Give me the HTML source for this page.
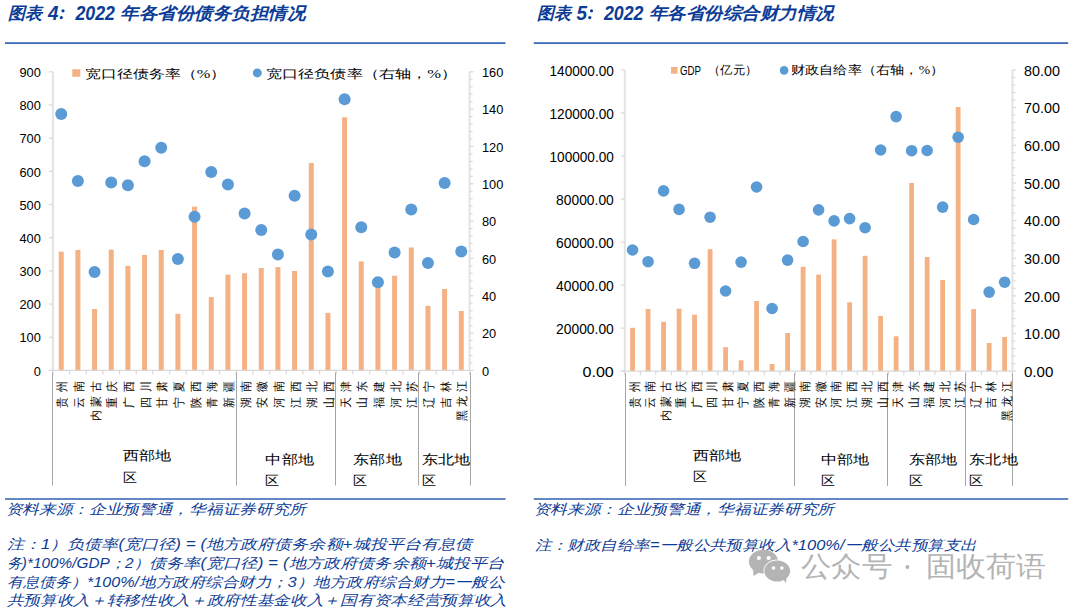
<!DOCTYPE html>
<html><head><meta charset="utf-8">
<style>
html,body{margin:0;padding:0;background:#fff;width:1080px;height:611px;overflow:hidden}
svg{position:absolute;left:0;top:0;font-family:"Liberation Serif",serif}
.num{font-family:"Liberation Sans",sans-serif;fill:#000}
text{fill:#000}
.blue{fill:#0c3c96}
.ttl{fill:#0c3c96;font-size:17px;font-style:italic;font-weight:bold}
.tnum{font-family:"Liberation Sans",sans-serif;font-size:19.5px;font-weight:bold}
.lg{font-size:12.3px;dominant-baseline:central;font-weight:300}
.cat{font-weight:300}
.lg2{font-size:11.6px;dominant-baseline:central;font-weight:300}
.grp{font-size:13.4px;dominant-baseline:central;font-weight:300}
.note{fill:#0c3c96;font-size:14px;font-style:italic;dominant-baseline:central;font-family:"Liberation Sans",sans-serif;font-weight:300}
.wm{fill:#b4b4b4;font-family:"Liberation Sans",sans-serif;font-size:28px;dominant-baseline:central}
</style></head><body>
<svg width="1080" height="611" viewBox="0 0 1080 611">
<rect x="5" y="42.2" width="500.5" height="1.8" fill="#3d6ab4"/>
<rect x="533.8" y="42.2" width="534.4" height="1.8" fill="#3d6ab4"/>
<rect x="5" y="498.2" width="500.5" height="1.6" fill="#3d6ab4"/>
<rect x="533.8" y="498.2" width="534.4" height="1.6" fill="#3d6ab4"/>
<rect x="58.73" y="251.70" width="5.0" height="118.70" fill="#f4b183"/>
<rect x="75.40" y="249.90" width="5.0" height="120.50" fill="#f4b183"/>
<rect x="92.07" y="309.00" width="5.0" height="61.40" fill="#f4b183"/>
<rect x="108.74" y="249.60" width="5.0" height="120.80" fill="#f4b183"/>
<rect x="125.41" y="265.90" width="5.0" height="104.50" fill="#f4b183"/>
<rect x="142.07" y="254.90" width="5.0" height="115.50" fill="#f4b183"/>
<rect x="158.74" y="249.90" width="5.0" height="120.50" fill="#f4b183"/>
<rect x="175.41" y="313.80" width="5.0" height="56.60" fill="#f4b183"/>
<rect x="192.08" y="206.70" width="5.0" height="163.70" fill="#f4b183"/>
<rect x="208.75" y="297.10" width="5.0" height="73.30" fill="#f4b183"/>
<rect x="225.41" y="274.60" width="5.0" height="95.80" fill="#f4b183"/>
<rect x="242.08" y="273.20" width="5.0" height="97.20" fill="#f4b183"/>
<rect x="258.75" y="268.00" width="5.0" height="102.40" fill="#f4b183"/>
<rect x="275.42" y="267.10" width="5.0" height="103.30" fill="#f4b183"/>
<rect x="292.09" y="271.00" width="5.0" height="99.40" fill="#f4b183"/>
<rect x="308.75" y="163.00" width="5.0" height="207.40" fill="#f4b183"/>
<rect x="325.42" y="312.90" width="5.0" height="57.50" fill="#f4b183"/>
<rect x="342.09" y="117.30" width="5.0" height="253.10" fill="#f4b183"/>
<rect x="358.76" y="261.40" width="5.0" height="109.00" fill="#f4b183"/>
<rect x="375.43" y="283.00" width="5.0" height="87.40" fill="#f4b183"/>
<rect x="392.09" y="275.70" width="5.0" height="94.70" fill="#f4b183"/>
<rect x="408.76" y="247.50" width="5.0" height="122.90" fill="#f4b183"/>
<rect x="425.43" y="305.90" width="5.0" height="64.50" fill="#f4b183"/>
<rect x="442.10" y="289.00" width="5.0" height="81.40" fill="#f4b183"/>
<rect x="458.77" y="311.00" width="5.0" height="59.40" fill="#f4b183"/>
<line x1="52.90" y1="71.80" x2="52.90" y2="370.40" stroke="#e3e3e3" stroke-width="2"/>
<line x1="469.60" y1="71.80" x2="469.60" y2="370.40" stroke="#e3e3e3" stroke-width="2"/>
<line x1="48.90" y1="370.40" x2="469.60" y2="370.40" stroke="#d9d9d9" stroke-width="1.2"/>
<line x1="48.90" y1="71.80" x2="52.90" y2="71.80" stroke="#d9d9d9" stroke-width="1.2"/>
<line x1="48.90" y1="104.98" x2="52.90" y2="104.98" stroke="#d9d9d9" stroke-width="1.2"/>
<line x1="48.90" y1="138.16" x2="52.90" y2="138.16" stroke="#d9d9d9" stroke-width="1.2"/>
<line x1="48.90" y1="171.33" x2="52.90" y2="171.33" stroke="#d9d9d9" stroke-width="1.2"/>
<line x1="48.90" y1="204.51" x2="52.90" y2="204.51" stroke="#d9d9d9" stroke-width="1.2"/>
<line x1="48.90" y1="237.69" x2="52.90" y2="237.69" stroke="#d9d9d9" stroke-width="1.2"/>
<line x1="48.90" y1="270.87" x2="52.90" y2="270.87" stroke="#d9d9d9" stroke-width="1.2"/>
<line x1="48.90" y1="304.04" x2="52.90" y2="304.04" stroke="#d9d9d9" stroke-width="1.2"/>
<line x1="48.90" y1="337.22" x2="52.90" y2="337.22" stroke="#d9d9d9" stroke-width="1.2"/>
<line x1="48.90" y1="370.40" x2="52.90" y2="370.40" stroke="#d9d9d9" stroke-width="1.2"/>
<line x1="469.60" y1="71.80" x2="473.60" y2="71.80" stroke="#d9d9d9" stroke-width="1.2"/>
<line x1="469.60" y1="79.27" x2="472.60" y2="79.27" stroke="#d9d9d9" stroke-width="1.2"/>
<line x1="469.60" y1="86.73" x2="472.60" y2="86.73" stroke="#d9d9d9" stroke-width="1.2"/>
<line x1="469.60" y1="94.19" x2="472.60" y2="94.19" stroke="#d9d9d9" stroke-width="1.2"/>
<line x1="469.60" y1="101.66" x2="472.60" y2="101.66" stroke="#d9d9d9" stroke-width="1.2"/>
<line x1="469.60" y1="109.12" x2="473.60" y2="109.12" stroke="#d9d9d9" stroke-width="1.2"/>
<line x1="469.60" y1="116.59" x2="472.60" y2="116.59" stroke="#d9d9d9" stroke-width="1.2"/>
<line x1="469.60" y1="124.05" x2="472.60" y2="124.05" stroke="#d9d9d9" stroke-width="1.2"/>
<line x1="469.60" y1="131.52" x2="472.60" y2="131.52" stroke="#d9d9d9" stroke-width="1.2"/>
<line x1="469.60" y1="138.98" x2="472.60" y2="138.98" stroke="#d9d9d9" stroke-width="1.2"/>
<line x1="469.60" y1="146.45" x2="473.60" y2="146.45" stroke="#d9d9d9" stroke-width="1.2"/>
<line x1="469.60" y1="153.91" x2="472.60" y2="153.91" stroke="#d9d9d9" stroke-width="1.2"/>
<line x1="469.60" y1="161.38" x2="472.60" y2="161.38" stroke="#d9d9d9" stroke-width="1.2"/>
<line x1="469.60" y1="168.84" x2="472.60" y2="168.84" stroke="#d9d9d9" stroke-width="1.2"/>
<line x1="469.60" y1="176.31" x2="472.60" y2="176.31" stroke="#d9d9d9" stroke-width="1.2"/>
<line x1="469.60" y1="183.77" x2="473.60" y2="183.77" stroke="#d9d9d9" stroke-width="1.2"/>
<line x1="469.60" y1="191.24" x2="472.60" y2="191.24" stroke="#d9d9d9" stroke-width="1.2"/>
<line x1="469.60" y1="198.70" x2="472.60" y2="198.70" stroke="#d9d9d9" stroke-width="1.2"/>
<line x1="469.60" y1="206.17" x2="472.60" y2="206.17" stroke="#d9d9d9" stroke-width="1.2"/>
<line x1="469.60" y1="213.63" x2="472.60" y2="213.63" stroke="#d9d9d9" stroke-width="1.2"/>
<line x1="469.60" y1="221.10" x2="473.60" y2="221.10" stroke="#d9d9d9" stroke-width="1.2"/>
<line x1="469.60" y1="228.56" x2="472.60" y2="228.56" stroke="#d9d9d9" stroke-width="1.2"/>
<line x1="469.60" y1="236.03" x2="472.60" y2="236.03" stroke="#d9d9d9" stroke-width="1.2"/>
<line x1="469.60" y1="243.50" x2="472.60" y2="243.50" stroke="#d9d9d9" stroke-width="1.2"/>
<line x1="469.60" y1="250.96" x2="472.60" y2="250.96" stroke="#d9d9d9" stroke-width="1.2"/>
<line x1="469.60" y1="258.42" x2="473.60" y2="258.42" stroke="#d9d9d9" stroke-width="1.2"/>
<line x1="469.60" y1="265.89" x2="472.60" y2="265.89" stroke="#d9d9d9" stroke-width="1.2"/>
<line x1="469.60" y1="273.35" x2="472.60" y2="273.35" stroke="#d9d9d9" stroke-width="1.2"/>
<line x1="469.60" y1="280.82" x2="472.60" y2="280.82" stroke="#d9d9d9" stroke-width="1.2"/>
<line x1="469.60" y1="288.28" x2="472.60" y2="288.28" stroke="#d9d9d9" stroke-width="1.2"/>
<line x1="469.60" y1="295.75" x2="473.60" y2="295.75" stroke="#d9d9d9" stroke-width="1.2"/>
<line x1="469.60" y1="303.21" x2="472.60" y2="303.21" stroke="#d9d9d9" stroke-width="1.2"/>
<line x1="469.60" y1="310.68" x2="472.60" y2="310.68" stroke="#d9d9d9" stroke-width="1.2"/>
<line x1="469.60" y1="318.14" x2="472.60" y2="318.14" stroke="#d9d9d9" stroke-width="1.2"/>
<line x1="469.60" y1="325.61" x2="472.60" y2="325.61" stroke="#d9d9d9" stroke-width="1.2"/>
<line x1="469.60" y1="333.07" x2="473.60" y2="333.07" stroke="#d9d9d9" stroke-width="1.2"/>
<line x1="469.60" y1="340.54" x2="472.60" y2="340.54" stroke="#d9d9d9" stroke-width="1.2"/>
<line x1="469.60" y1="348.00" x2="472.60" y2="348.00" stroke="#d9d9d9" stroke-width="1.2"/>
<line x1="469.60" y1="355.47" x2="472.60" y2="355.47" stroke="#d9d9d9" stroke-width="1.2"/>
<line x1="469.60" y1="362.93" x2="472.60" y2="362.93" stroke="#d9d9d9" stroke-width="1.2"/>
<line x1="469.60" y1="370.40" x2="473.60" y2="370.40" stroke="#d9d9d9" stroke-width="1.2"/>
<line x1="52.90" y1="370.40" x2="52.90" y2="374.40" stroke="#d9d9d9" stroke-width="1.2"/>
<line x1="69.57" y1="370.40" x2="69.57" y2="374.40" stroke="#d9d9d9" stroke-width="1.2"/>
<line x1="86.24" y1="370.40" x2="86.24" y2="374.40" stroke="#d9d9d9" stroke-width="1.2"/>
<line x1="102.90" y1="370.40" x2="102.90" y2="374.40" stroke="#d9d9d9" stroke-width="1.2"/>
<line x1="119.57" y1="370.40" x2="119.57" y2="374.40" stroke="#d9d9d9" stroke-width="1.2"/>
<line x1="136.24" y1="370.40" x2="136.24" y2="374.40" stroke="#d9d9d9" stroke-width="1.2"/>
<line x1="152.91" y1="370.40" x2="152.91" y2="374.40" stroke="#d9d9d9" stroke-width="1.2"/>
<line x1="169.58" y1="370.40" x2="169.58" y2="374.40" stroke="#d9d9d9" stroke-width="1.2"/>
<line x1="186.24" y1="370.40" x2="186.24" y2="374.40" stroke="#d9d9d9" stroke-width="1.2"/>
<line x1="202.91" y1="370.40" x2="202.91" y2="374.40" stroke="#d9d9d9" stroke-width="1.2"/>
<line x1="219.58" y1="370.40" x2="219.58" y2="374.40" stroke="#d9d9d9" stroke-width="1.2"/>
<line x1="236.25" y1="370.40" x2="236.25" y2="374.40" stroke="#d9d9d9" stroke-width="1.2"/>
<line x1="252.92" y1="370.40" x2="252.92" y2="374.40" stroke="#d9d9d9" stroke-width="1.2"/>
<line x1="269.58" y1="370.40" x2="269.58" y2="374.40" stroke="#d9d9d9" stroke-width="1.2"/>
<line x1="286.25" y1="370.40" x2="286.25" y2="374.40" stroke="#d9d9d9" stroke-width="1.2"/>
<line x1="302.92" y1="370.40" x2="302.92" y2="374.40" stroke="#d9d9d9" stroke-width="1.2"/>
<line x1="319.59" y1="370.40" x2="319.59" y2="374.40" stroke="#d9d9d9" stroke-width="1.2"/>
<line x1="336.26" y1="370.40" x2="336.26" y2="374.40" stroke="#d9d9d9" stroke-width="1.2"/>
<line x1="352.92" y1="370.40" x2="352.92" y2="374.40" stroke="#d9d9d9" stroke-width="1.2"/>
<line x1="369.59" y1="370.40" x2="369.59" y2="374.40" stroke="#d9d9d9" stroke-width="1.2"/>
<line x1="386.26" y1="370.40" x2="386.26" y2="374.40" stroke="#d9d9d9" stroke-width="1.2"/>
<line x1="402.93" y1="370.40" x2="402.93" y2="374.40" stroke="#d9d9d9" stroke-width="1.2"/>
<line x1="419.60" y1="370.40" x2="419.60" y2="374.40" stroke="#d9d9d9" stroke-width="1.2"/>
<line x1="436.26" y1="370.40" x2="436.26" y2="374.40" stroke="#d9d9d9" stroke-width="1.2"/>
<line x1="452.93" y1="370.40" x2="452.93" y2="374.40" stroke="#d9d9d9" stroke-width="1.2"/>
<line x1="469.60" y1="370.40" x2="469.60" y2="374.40" stroke="#d9d9d9" stroke-width="1.2"/>
<line x1="52.50" y1="372.40" x2="52.50" y2="485.50" stroke="#a6a6a6" stroke-width="1"/>
<line x1="236.50" y1="372.40" x2="236.50" y2="485.50" stroke="#a6a6a6" stroke-width="1"/>
<line x1="335.50" y1="372.40" x2="335.50" y2="485.50" stroke="#a6a6a6" stroke-width="1"/>
<line x1="418.50" y1="372.40" x2="418.50" y2="485.50" stroke="#a6a6a6" stroke-width="1"/>
<line x1="470.50" y1="372.40" x2="470.50" y2="485.50" stroke="#a6a6a6" stroke-width="1"/>
<circle cx="61.23" cy="113.90" r="6.0" fill="#5b9bd5"/>
<circle cx="77.90" cy="181.10" r="6.0" fill="#5b9bd5"/>
<circle cx="94.57" cy="272.10" r="6.0" fill="#5b9bd5"/>
<circle cx="111.24" cy="182.40" r="6.0" fill="#5b9bd5"/>
<circle cx="127.91" cy="185.20" r="6.0" fill="#5b9bd5"/>
<circle cx="144.57" cy="161.30" r="6.0" fill="#5b9bd5"/>
<circle cx="161.24" cy="147.80" r="6.0" fill="#5b9bd5"/>
<circle cx="177.91" cy="259.00" r="6.0" fill="#5b9bd5"/>
<circle cx="194.58" cy="216.80" r="6.0" fill="#5b9bd5"/>
<circle cx="211.25" cy="171.90" r="6.0" fill="#5b9bd5"/>
<circle cx="227.91" cy="184.40" r="6.0" fill="#5b9bd5"/>
<circle cx="244.58" cy="213.50" r="6.0" fill="#5b9bd5"/>
<circle cx="261.25" cy="230.00" r="6.0" fill="#5b9bd5"/>
<circle cx="277.92" cy="254.50" r="6.0" fill="#5b9bd5"/>
<circle cx="294.59" cy="195.80" r="6.0" fill="#5b9bd5"/>
<circle cx="311.25" cy="234.40" r="6.0" fill="#5b9bd5"/>
<circle cx="327.92" cy="271.40" r="6.0" fill="#5b9bd5"/>
<circle cx="344.59" cy="99.20" r="6.0" fill="#5b9bd5"/>
<circle cx="361.26" cy="227.20" r="6.0" fill="#5b9bd5"/>
<circle cx="377.93" cy="282.30" r="6.0" fill="#5b9bd5"/>
<circle cx="394.59" cy="252.50" r="6.0" fill="#5b9bd5"/>
<circle cx="411.26" cy="209.60" r="6.0" fill="#5b9bd5"/>
<circle cx="427.93" cy="263.10" r="6.0" fill="#5b9bd5"/>
<circle cx="444.60" cy="182.90" r="6.0" fill="#5b9bd5"/>
<circle cx="461.27" cy="251.40" r="6.0" fill="#5b9bd5"/>
<text class="cat" transform="translate(62.03,380.3) rotate(-90) scale(1,1.1)" text-anchor="end" dominant-baseline="central" font-size="11.3" textLength="27.4" lengthAdjust="spacing">贵州</text>
<text class="cat" transform="translate(78.70,380.3) rotate(-90) scale(1,1.1)" text-anchor="end" dominant-baseline="central" font-size="11.3" textLength="27.4" lengthAdjust="spacing">云南</text>
<text class="cat" transform="translate(95.37,380.3) rotate(-90) scale(1,1.1)" text-anchor="end" dominant-baseline="central" font-size="11.3" textLength="41.2" lengthAdjust="spacing">内蒙古</text>
<text class="cat" transform="translate(112.04,380.3) rotate(-90) scale(1,1.1)" text-anchor="end" dominant-baseline="central" font-size="11.3" textLength="27.4" lengthAdjust="spacing">重庆</text>
<text class="cat" transform="translate(128.71,380.3) rotate(-90) scale(1,1.1)" text-anchor="end" dominant-baseline="central" font-size="11.3" textLength="27.4" lengthAdjust="spacing">广西</text>
<text class="cat" transform="translate(145.37,380.3) rotate(-90) scale(1,1.1)" text-anchor="end" dominant-baseline="central" font-size="11.3" textLength="27.4" lengthAdjust="spacing">四川</text>
<text class="cat" transform="translate(162.04,380.3) rotate(-90) scale(1,1.1)" text-anchor="end" dominant-baseline="central" font-size="11.3" textLength="27.4" lengthAdjust="spacing">甘肃</text>
<text class="cat" transform="translate(178.71,380.3) rotate(-90) scale(1,1.1)" text-anchor="end" dominant-baseline="central" font-size="11.3" textLength="27.4" lengthAdjust="spacing">宁夏</text>
<text class="cat" transform="translate(195.38,380.3) rotate(-90) scale(1,1.1)" text-anchor="end" dominant-baseline="central" font-size="11.3" textLength="27.4" lengthAdjust="spacing">陕西</text>
<text class="cat" transform="translate(212.05,380.3) rotate(-90) scale(1,1.1)" text-anchor="end" dominant-baseline="central" font-size="11.3" textLength="27.4" lengthAdjust="spacing">青海</text>
<text class="cat" transform="translate(228.71,380.3) rotate(-90) scale(1,1.1)" text-anchor="end" dominant-baseline="central" font-size="11.3" textLength="27.4" lengthAdjust="spacing">新疆</text>
<text class="cat" transform="translate(245.38,380.3) rotate(-90) scale(1,1.1)" text-anchor="end" dominant-baseline="central" font-size="11.3" textLength="27.4" lengthAdjust="spacing">湖南</text>
<text class="cat" transform="translate(262.05,380.3) rotate(-90) scale(1,1.1)" text-anchor="end" dominant-baseline="central" font-size="11.3" textLength="27.4" lengthAdjust="spacing">安徽</text>
<text class="cat" transform="translate(278.72,380.3) rotate(-90) scale(1,1.1)" text-anchor="end" dominant-baseline="central" font-size="11.3" textLength="27.4" lengthAdjust="spacing">河南</text>
<text class="cat" transform="translate(295.39,380.3) rotate(-90) scale(1,1.1)" text-anchor="end" dominant-baseline="central" font-size="11.3" textLength="27.4" lengthAdjust="spacing">江西</text>
<text class="cat" transform="translate(312.05,380.3) rotate(-90) scale(1,1.1)" text-anchor="end" dominant-baseline="central" font-size="11.3" textLength="27.4" lengthAdjust="spacing">湖北</text>
<text class="cat" transform="translate(328.72,380.3) rotate(-90) scale(1,1.1)" text-anchor="end" dominant-baseline="central" font-size="11.3" textLength="27.4" lengthAdjust="spacing">山西</text>
<text class="cat" transform="translate(345.39,380.3) rotate(-90) scale(1,1.1)" text-anchor="end" dominant-baseline="central" font-size="11.3" textLength="27.4" lengthAdjust="spacing">天津</text>
<text class="cat" transform="translate(362.06,380.3) rotate(-90) scale(1,1.1)" text-anchor="end" dominant-baseline="central" font-size="11.3" textLength="27.4" lengthAdjust="spacing">山东</text>
<text class="cat" transform="translate(378.73,380.3) rotate(-90) scale(1,1.1)" text-anchor="end" dominant-baseline="central" font-size="11.3" textLength="27.4" lengthAdjust="spacing">福建</text>
<text class="cat" transform="translate(395.39,380.3) rotate(-90) scale(1,1.1)" text-anchor="end" dominant-baseline="central" font-size="11.3" textLength="27.4" lengthAdjust="spacing">河北</text>
<text class="cat" transform="translate(412.06,380.3) rotate(-90) scale(1,1.1)" text-anchor="end" dominant-baseline="central" font-size="11.3" textLength="27.4" lengthAdjust="spacing">江苏</text>
<text class="cat" transform="translate(428.73,380.3) rotate(-90) scale(1,1.1)" text-anchor="end" dominant-baseline="central" font-size="11.3" textLength="27.4" lengthAdjust="spacing">辽宁</text>
<text class="cat" transform="translate(445.40,380.3) rotate(-90) scale(1,1.1)" text-anchor="end" dominant-baseline="central" font-size="11.3" textLength="27.4" lengthAdjust="spacing">吉林</text>
<text class="cat" transform="translate(462.07,380.3) rotate(-90) scale(1,1.1)" text-anchor="end" dominant-baseline="central" font-size="11.3" textLength="41.2" lengthAdjust="spacing">黑龙江</text>
<rect x="630.15" y="327.80" width="4.8" height="43.40" fill="#f4b183"/>
<rect x="645.66" y="309.00" width="4.8" height="62.20" fill="#f4b183"/>
<rect x="661.16" y="321.80" width="4.8" height="49.40" fill="#f4b183"/>
<rect x="676.66" y="308.70" width="4.8" height="62.50" fill="#f4b183"/>
<rect x="692.17" y="314.70" width="4.8" height="56.50" fill="#f4b183"/>
<rect x="707.67" y="249.20" width="4.8" height="122.00" fill="#f4b183"/>
<rect x="723.18" y="347.20" width="4.8" height="24.00" fill="#f4b183"/>
<rect x="738.68" y="360.30" width="4.8" height="10.90" fill="#f4b183"/>
<rect x="754.18" y="301.00" width="4.8" height="70.20" fill="#f4b183"/>
<rect x="769.69" y="364.00" width="4.8" height="7.20" fill="#f4b183"/>
<rect x="785.19" y="333.00" width="4.8" height="38.20" fill="#f4b183"/>
<rect x="800.70" y="266.80" width="4.8" height="104.40" fill="#f4b183"/>
<rect x="816.20" y="274.60" width="4.8" height="96.60" fill="#f4b183"/>
<rect x="831.70" y="239.40" width="4.8" height="131.80" fill="#f4b183"/>
<rect x="847.21" y="302.30" width="4.8" height="68.90" fill="#f4b183"/>
<rect x="862.71" y="255.80" width="4.8" height="115.40" fill="#f4b183"/>
<rect x="878.22" y="315.90" width="4.8" height="55.30" fill="#f4b183"/>
<rect x="893.72" y="336.30" width="4.8" height="34.90" fill="#f4b183"/>
<rect x="909.22" y="183.00" width="4.8" height="188.20" fill="#f4b183"/>
<rect x="924.73" y="257.00" width="4.8" height="114.20" fill="#f4b183"/>
<rect x="940.23" y="280.00" width="4.8" height="91.20" fill="#f4b183"/>
<rect x="955.74" y="107.00" width="4.8" height="264.20" fill="#f4b183"/>
<rect x="971.24" y="309.10" width="4.8" height="62.10" fill="#f4b183"/>
<rect x="986.74" y="343.00" width="4.8" height="28.20" fill="#f4b183"/>
<rect x="1002.25" y="337.00" width="4.8" height="34.20" fill="#f4b183"/>
<line x1="624.80" y1="69.90" x2="624.80" y2="371.20" stroke="#e3e3e3" stroke-width="2"/>
<line x1="1012.40" y1="69.90" x2="1012.40" y2="371.20" stroke="#e3e3e3" stroke-width="2"/>
<line x1="620.80" y1="371.20" x2="1012.40" y2="371.20" stroke="#d9d9d9" stroke-width="1.2"/>
<line x1="620.80" y1="69.90" x2="624.80" y2="69.90" stroke="#d9d9d9" stroke-width="1.2"/>
<line x1="620.80" y1="112.94" x2="624.80" y2="112.94" stroke="#d9d9d9" stroke-width="1.2"/>
<line x1="620.80" y1="155.99" x2="624.80" y2="155.99" stroke="#d9d9d9" stroke-width="1.2"/>
<line x1="620.80" y1="199.03" x2="624.80" y2="199.03" stroke="#d9d9d9" stroke-width="1.2"/>
<line x1="620.80" y1="242.07" x2="624.80" y2="242.07" stroke="#d9d9d9" stroke-width="1.2"/>
<line x1="620.80" y1="285.11" x2="624.80" y2="285.11" stroke="#d9d9d9" stroke-width="1.2"/>
<line x1="620.80" y1="328.16" x2="624.80" y2="328.16" stroke="#d9d9d9" stroke-width="1.2"/>
<line x1="620.80" y1="371.20" x2="624.80" y2="371.20" stroke="#d9d9d9" stroke-width="1.2"/>
<line x1="1012.40" y1="69.90" x2="1016.40" y2="69.90" stroke="#d9d9d9" stroke-width="1.2"/>
<line x1="1012.40" y1="77.43" x2="1015.40" y2="77.43" stroke="#d9d9d9" stroke-width="1.2"/>
<line x1="1012.40" y1="84.97" x2="1015.40" y2="84.97" stroke="#d9d9d9" stroke-width="1.2"/>
<line x1="1012.40" y1="92.50" x2="1015.40" y2="92.50" stroke="#d9d9d9" stroke-width="1.2"/>
<line x1="1012.40" y1="100.03" x2="1015.40" y2="100.03" stroke="#d9d9d9" stroke-width="1.2"/>
<line x1="1012.40" y1="107.56" x2="1016.40" y2="107.56" stroke="#d9d9d9" stroke-width="1.2"/>
<line x1="1012.40" y1="115.09" x2="1015.40" y2="115.09" stroke="#d9d9d9" stroke-width="1.2"/>
<line x1="1012.40" y1="122.63" x2="1015.40" y2="122.63" stroke="#d9d9d9" stroke-width="1.2"/>
<line x1="1012.40" y1="130.16" x2="1015.40" y2="130.16" stroke="#d9d9d9" stroke-width="1.2"/>
<line x1="1012.40" y1="137.69" x2="1015.40" y2="137.69" stroke="#d9d9d9" stroke-width="1.2"/>
<line x1="1012.40" y1="145.22" x2="1016.40" y2="145.22" stroke="#d9d9d9" stroke-width="1.2"/>
<line x1="1012.40" y1="152.76" x2="1015.40" y2="152.76" stroke="#d9d9d9" stroke-width="1.2"/>
<line x1="1012.40" y1="160.29" x2="1015.40" y2="160.29" stroke="#d9d9d9" stroke-width="1.2"/>
<line x1="1012.40" y1="167.82" x2="1015.40" y2="167.82" stroke="#d9d9d9" stroke-width="1.2"/>
<line x1="1012.40" y1="175.35" x2="1015.40" y2="175.35" stroke="#d9d9d9" stroke-width="1.2"/>
<line x1="1012.40" y1="182.89" x2="1016.40" y2="182.89" stroke="#d9d9d9" stroke-width="1.2"/>
<line x1="1012.40" y1="190.42" x2="1015.40" y2="190.42" stroke="#d9d9d9" stroke-width="1.2"/>
<line x1="1012.40" y1="197.95" x2="1015.40" y2="197.95" stroke="#d9d9d9" stroke-width="1.2"/>
<line x1="1012.40" y1="205.48" x2="1015.40" y2="205.48" stroke="#d9d9d9" stroke-width="1.2"/>
<line x1="1012.40" y1="213.02" x2="1015.40" y2="213.02" stroke="#d9d9d9" stroke-width="1.2"/>
<line x1="1012.40" y1="220.55" x2="1016.40" y2="220.55" stroke="#d9d9d9" stroke-width="1.2"/>
<line x1="1012.40" y1="228.08" x2="1015.40" y2="228.08" stroke="#d9d9d9" stroke-width="1.2"/>
<line x1="1012.40" y1="235.61" x2="1015.40" y2="235.61" stroke="#d9d9d9" stroke-width="1.2"/>
<line x1="1012.40" y1="243.15" x2="1015.40" y2="243.15" stroke="#d9d9d9" stroke-width="1.2"/>
<line x1="1012.40" y1="250.68" x2="1015.40" y2="250.68" stroke="#d9d9d9" stroke-width="1.2"/>
<line x1="1012.40" y1="258.21" x2="1016.40" y2="258.21" stroke="#d9d9d9" stroke-width="1.2"/>
<line x1="1012.40" y1="265.75" x2="1015.40" y2="265.75" stroke="#d9d9d9" stroke-width="1.2"/>
<line x1="1012.40" y1="273.28" x2="1015.40" y2="273.28" stroke="#d9d9d9" stroke-width="1.2"/>
<line x1="1012.40" y1="280.81" x2="1015.40" y2="280.81" stroke="#d9d9d9" stroke-width="1.2"/>
<line x1="1012.40" y1="288.34" x2="1015.40" y2="288.34" stroke="#d9d9d9" stroke-width="1.2"/>
<line x1="1012.40" y1="295.88" x2="1016.40" y2="295.88" stroke="#d9d9d9" stroke-width="1.2"/>
<line x1="1012.40" y1="303.41" x2="1015.40" y2="303.41" stroke="#d9d9d9" stroke-width="1.2"/>
<line x1="1012.40" y1="310.94" x2="1015.40" y2="310.94" stroke="#d9d9d9" stroke-width="1.2"/>
<line x1="1012.40" y1="318.47" x2="1015.40" y2="318.47" stroke="#d9d9d9" stroke-width="1.2"/>
<line x1="1012.40" y1="326.00" x2="1015.40" y2="326.00" stroke="#d9d9d9" stroke-width="1.2"/>
<line x1="1012.40" y1="333.54" x2="1016.40" y2="333.54" stroke="#d9d9d9" stroke-width="1.2"/>
<line x1="1012.40" y1="341.07" x2="1015.40" y2="341.07" stroke="#d9d9d9" stroke-width="1.2"/>
<line x1="1012.40" y1="348.60" x2="1015.40" y2="348.60" stroke="#d9d9d9" stroke-width="1.2"/>
<line x1="1012.40" y1="356.13" x2="1015.40" y2="356.13" stroke="#d9d9d9" stroke-width="1.2"/>
<line x1="1012.40" y1="363.67" x2="1015.40" y2="363.67" stroke="#d9d9d9" stroke-width="1.2"/>
<line x1="1012.40" y1="371.20" x2="1016.40" y2="371.20" stroke="#d9d9d9" stroke-width="1.2"/>
<line x1="624.80" y1="371.20" x2="624.80" y2="375.20" stroke="#d9d9d9" stroke-width="1.2"/>
<line x1="640.30" y1="371.20" x2="640.30" y2="375.20" stroke="#d9d9d9" stroke-width="1.2"/>
<line x1="655.81" y1="371.20" x2="655.81" y2="375.20" stroke="#d9d9d9" stroke-width="1.2"/>
<line x1="671.31" y1="371.20" x2="671.31" y2="375.20" stroke="#d9d9d9" stroke-width="1.2"/>
<line x1="686.82" y1="371.20" x2="686.82" y2="375.20" stroke="#d9d9d9" stroke-width="1.2"/>
<line x1="702.32" y1="371.20" x2="702.32" y2="375.20" stroke="#d9d9d9" stroke-width="1.2"/>
<line x1="717.82" y1="371.20" x2="717.82" y2="375.20" stroke="#d9d9d9" stroke-width="1.2"/>
<line x1="733.33" y1="371.20" x2="733.33" y2="375.20" stroke="#d9d9d9" stroke-width="1.2"/>
<line x1="748.83" y1="371.20" x2="748.83" y2="375.20" stroke="#d9d9d9" stroke-width="1.2"/>
<line x1="764.34" y1="371.20" x2="764.34" y2="375.20" stroke="#d9d9d9" stroke-width="1.2"/>
<line x1="779.84" y1="371.20" x2="779.84" y2="375.20" stroke="#d9d9d9" stroke-width="1.2"/>
<line x1="795.34" y1="371.20" x2="795.34" y2="375.20" stroke="#d9d9d9" stroke-width="1.2"/>
<line x1="810.85" y1="371.20" x2="810.85" y2="375.20" stroke="#d9d9d9" stroke-width="1.2"/>
<line x1="826.35" y1="371.20" x2="826.35" y2="375.20" stroke="#d9d9d9" stroke-width="1.2"/>
<line x1="841.86" y1="371.20" x2="841.86" y2="375.20" stroke="#d9d9d9" stroke-width="1.2"/>
<line x1="857.36" y1="371.20" x2="857.36" y2="375.20" stroke="#d9d9d9" stroke-width="1.2"/>
<line x1="872.86" y1="371.20" x2="872.86" y2="375.20" stroke="#d9d9d9" stroke-width="1.2"/>
<line x1="888.37" y1="371.20" x2="888.37" y2="375.20" stroke="#d9d9d9" stroke-width="1.2"/>
<line x1="903.87" y1="371.20" x2="903.87" y2="375.20" stroke="#d9d9d9" stroke-width="1.2"/>
<line x1="919.38" y1="371.20" x2="919.38" y2="375.20" stroke="#d9d9d9" stroke-width="1.2"/>
<line x1="934.88" y1="371.20" x2="934.88" y2="375.20" stroke="#d9d9d9" stroke-width="1.2"/>
<line x1="950.38" y1="371.20" x2="950.38" y2="375.20" stroke="#d9d9d9" stroke-width="1.2"/>
<line x1="965.89" y1="371.20" x2="965.89" y2="375.20" stroke="#d9d9d9" stroke-width="1.2"/>
<line x1="981.39" y1="371.20" x2="981.39" y2="375.20" stroke="#d9d9d9" stroke-width="1.2"/>
<line x1="996.90" y1="371.20" x2="996.90" y2="375.20" stroke="#d9d9d9" stroke-width="1.2"/>
<line x1="1012.40" y1="371.20" x2="1012.40" y2="375.20" stroke="#d9d9d9" stroke-width="1.2"/>
<line x1="625.50" y1="373.20" x2="625.50" y2="486.00" stroke="#a6a6a6" stroke-width="1"/>
<line x1="794.50" y1="373.20" x2="794.50" y2="486.00" stroke="#a6a6a6" stroke-width="1"/>
<line x1="887.50" y1="373.20" x2="887.50" y2="486.00" stroke="#a6a6a6" stroke-width="1"/>
<line x1="965.50" y1="373.20" x2="965.50" y2="486.00" stroke="#a6a6a6" stroke-width="1"/>
<line x1="1012.50" y1="373.20" x2="1012.50" y2="486.00" stroke="#a6a6a6" stroke-width="1"/>
<circle cx="632.55" cy="250.00" r="5.8" fill="#5b9bd5"/>
<circle cx="648.06" cy="261.70" r="5.8" fill="#5b9bd5"/>
<circle cx="663.56" cy="190.90" r="5.8" fill="#5b9bd5"/>
<circle cx="679.06" cy="209.40" r="5.8" fill="#5b9bd5"/>
<circle cx="694.57" cy="263.30" r="5.8" fill="#5b9bd5"/>
<circle cx="710.07" cy="217.20" r="5.8" fill="#5b9bd5"/>
<circle cx="725.58" cy="291.00" r="5.8" fill="#5b9bd5"/>
<circle cx="741.08" cy="262.10" r="5.8" fill="#5b9bd5"/>
<circle cx="756.58" cy="187.00" r="5.8" fill="#5b9bd5"/>
<circle cx="772.09" cy="308.50" r="5.8" fill="#5b9bd5"/>
<circle cx="787.59" cy="260.10" r="5.8" fill="#5b9bd5"/>
<circle cx="803.10" cy="241.50" r="5.8" fill="#5b9bd5"/>
<circle cx="818.60" cy="209.90" r="5.8" fill="#5b9bd5"/>
<circle cx="834.10" cy="220.90" r="5.8" fill="#5b9bd5"/>
<circle cx="849.61" cy="218.60" r="5.8" fill="#5b9bd5"/>
<circle cx="865.11" cy="227.70" r="5.8" fill="#5b9bd5"/>
<circle cx="880.62" cy="150.00" r="5.8" fill="#5b9bd5"/>
<circle cx="896.12" cy="116.60" r="5.8" fill="#5b9bd5"/>
<circle cx="911.62" cy="150.70" r="5.8" fill="#5b9bd5"/>
<circle cx="927.13" cy="150.50" r="5.8" fill="#5b9bd5"/>
<circle cx="942.63" cy="207.10" r="5.8" fill="#5b9bd5"/>
<circle cx="958.14" cy="137.20" r="5.8" fill="#5b9bd5"/>
<circle cx="973.64" cy="219.50" r="5.8" fill="#5b9bd5"/>
<circle cx="989.14" cy="292.10" r="5.8" fill="#5b9bd5"/>
<circle cx="1004.65" cy="282.20" r="5.8" fill="#5b9bd5"/>
<text class="cat" transform="translate(634.55,380.3) rotate(-90) scale(1,1.1)" text-anchor="end" dominant-baseline="central" font-size="11.3" textLength="27.4" lengthAdjust="spacing">贵州</text>
<text class="cat" transform="translate(650.06,380.3) rotate(-90) scale(1,1.1)" text-anchor="end" dominant-baseline="central" font-size="11.3" textLength="27.4" lengthAdjust="spacing">云南</text>
<text class="cat" transform="translate(665.56,380.3) rotate(-90) scale(1,1.1)" text-anchor="end" dominant-baseline="central" font-size="11.3" textLength="41.2" lengthAdjust="spacing">内蒙古</text>
<text class="cat" transform="translate(681.06,380.3) rotate(-90) scale(1,1.1)" text-anchor="end" dominant-baseline="central" font-size="11.3" textLength="27.4" lengthAdjust="spacing">重庆</text>
<text class="cat" transform="translate(696.57,380.3) rotate(-90) scale(1,1.1)" text-anchor="end" dominant-baseline="central" font-size="11.3" textLength="27.4" lengthAdjust="spacing">广西</text>
<text class="cat" transform="translate(712.07,380.3) rotate(-90) scale(1,1.1)" text-anchor="end" dominant-baseline="central" font-size="11.3" textLength="27.4" lengthAdjust="spacing">四川</text>
<text class="cat" transform="translate(727.58,380.3) rotate(-90) scale(1,1.1)" text-anchor="end" dominant-baseline="central" font-size="11.3" textLength="27.4" lengthAdjust="spacing">甘肃</text>
<text class="cat" transform="translate(743.08,380.3) rotate(-90) scale(1,1.1)" text-anchor="end" dominant-baseline="central" font-size="11.3" textLength="27.4" lengthAdjust="spacing">宁夏</text>
<text class="cat" transform="translate(758.58,380.3) rotate(-90) scale(1,1.1)" text-anchor="end" dominant-baseline="central" font-size="11.3" textLength="27.4" lengthAdjust="spacing">陕西</text>
<text class="cat" transform="translate(774.09,380.3) rotate(-90) scale(1,1.1)" text-anchor="end" dominant-baseline="central" font-size="11.3" textLength="27.4" lengthAdjust="spacing">青海</text>
<text class="cat" transform="translate(789.59,380.3) rotate(-90) scale(1,1.1)" text-anchor="end" dominant-baseline="central" font-size="11.3" textLength="27.4" lengthAdjust="spacing">新疆</text>
<text class="cat" transform="translate(805.10,380.3) rotate(-90) scale(1,1.1)" text-anchor="end" dominant-baseline="central" font-size="11.3" textLength="27.4" lengthAdjust="spacing">湖南</text>
<text class="cat" transform="translate(820.60,380.3) rotate(-90) scale(1,1.1)" text-anchor="end" dominant-baseline="central" font-size="11.3" textLength="27.4" lengthAdjust="spacing">安徽</text>
<text class="cat" transform="translate(836.10,380.3) rotate(-90) scale(1,1.1)" text-anchor="end" dominant-baseline="central" font-size="11.3" textLength="27.4" lengthAdjust="spacing">河南</text>
<text class="cat" transform="translate(851.61,380.3) rotate(-90) scale(1,1.1)" text-anchor="end" dominant-baseline="central" font-size="11.3" textLength="27.4" lengthAdjust="spacing">江西</text>
<text class="cat" transform="translate(867.11,380.3) rotate(-90) scale(1,1.1)" text-anchor="end" dominant-baseline="central" font-size="11.3" textLength="27.4" lengthAdjust="spacing">湖北</text>
<text class="cat" transform="translate(882.62,380.3) rotate(-90) scale(1,1.1)" text-anchor="end" dominant-baseline="central" font-size="11.3" textLength="27.4" lengthAdjust="spacing">山西</text>
<text class="cat" transform="translate(898.12,380.3) rotate(-90) scale(1,1.1)" text-anchor="end" dominant-baseline="central" font-size="11.3" textLength="27.4" lengthAdjust="spacing">天津</text>
<text class="cat" transform="translate(913.62,380.3) rotate(-90) scale(1,1.1)" text-anchor="end" dominant-baseline="central" font-size="11.3" textLength="27.4" lengthAdjust="spacing">山东</text>
<text class="cat" transform="translate(929.13,380.3) rotate(-90) scale(1,1.1)" text-anchor="end" dominant-baseline="central" font-size="11.3" textLength="27.4" lengthAdjust="spacing">福建</text>
<text class="cat" transform="translate(944.63,380.3) rotate(-90) scale(1,1.1)" text-anchor="end" dominant-baseline="central" font-size="11.3" textLength="27.4" lengthAdjust="spacing">河北</text>
<text class="cat" transform="translate(960.14,380.3) rotate(-90) scale(1,1.1)" text-anchor="end" dominant-baseline="central" font-size="11.3" textLength="27.4" lengthAdjust="spacing">江苏</text>
<text class="cat" transform="translate(975.64,380.3) rotate(-90) scale(1,1.1)" text-anchor="end" dominant-baseline="central" font-size="11.3" textLength="27.4" lengthAdjust="spacing">辽宁</text>
<text class="cat" transform="translate(991.14,380.3) rotate(-90) scale(1,1.1)" text-anchor="end" dominant-baseline="central" font-size="11.3" textLength="27.4" lengthAdjust="spacing">吉林</text>
<text class="cat" transform="translate(1006.65,380.3) rotate(-90) scale(1,1.1)" text-anchor="end" dominant-baseline="central" font-size="11.3" textLength="41.2" lengthAdjust="spacing">黑龙江</text>
<text x="40.8" y="77.00" text-anchor="end" font-size="12.8" class="num">900</text>
<text x="40.8" y="110.18" text-anchor="end" font-size="12.8" class="num">800</text>
<text x="40.8" y="143.36" text-anchor="end" font-size="12.8" class="num">700</text>
<text x="40.8" y="176.53" text-anchor="end" font-size="12.8" class="num">600</text>
<text x="40.8" y="209.71" text-anchor="end" font-size="12.8" class="num">500</text>
<text x="40.8" y="242.89" text-anchor="end" font-size="12.8" class="num">400</text>
<text x="40.8" y="276.07" text-anchor="end" font-size="12.8" class="num">300</text>
<text x="40.8" y="309.24" text-anchor="end" font-size="12.8" class="num">200</text>
<text x="40.8" y="342.42" text-anchor="end" font-size="12.8" class="num">100</text>
<text x="40.8" y="375.60" text-anchor="end" font-size="12.8" class="num">0</text>
<text x="482" y="77.00" font-size="12.8" class="num">160</text>
<text x="482" y="114.33" font-size="12.8" class="num">140</text>
<text x="482" y="151.65" font-size="12.8" class="num">120</text>
<text x="482" y="188.97" font-size="12.8" class="num">100</text>
<text x="482" y="226.30" font-size="12.8" class="num">80</text>
<text x="482" y="263.62" font-size="12.8" class="num">60</text>
<text x="482" y="300.95" font-size="12.8" class="num">40</text>
<text x="482" y="338.27" font-size="12.8" class="num">20</text>
<text x="482" y="375.60" font-size="12.8" class="num">0</text>
<text x="613.8" y="75.60" text-anchor="end" font-size="14" class="num" textLength="64.3" lengthAdjust="spacingAndGlyphs">140000.00</text>
<text x="613.8" y="118.64" text-anchor="end" font-size="14" class="num" textLength="64.3" lengthAdjust="spacingAndGlyphs">120000.00</text>
<text x="613.8" y="161.69" text-anchor="end" font-size="14" class="num" textLength="64.3" lengthAdjust="spacingAndGlyphs">100000.00</text>
<text x="613.8" y="204.73" text-anchor="end" font-size="14" class="num" textLength="57.7" lengthAdjust="spacingAndGlyphs">80000.00</text>
<text x="613.8" y="247.77" text-anchor="end" font-size="14" class="num" textLength="57.7" lengthAdjust="spacingAndGlyphs">60000.00</text>
<text x="613.8" y="290.81" text-anchor="end" font-size="14" class="num" textLength="57.7" lengthAdjust="spacingAndGlyphs">40000.00</text>
<text x="613.8" y="333.86" text-anchor="end" font-size="14" class="num" textLength="57.7" lengthAdjust="spacingAndGlyphs">20000.00</text>
<text x="613.8" y="376.90" text-anchor="end" font-size="14" class="num" textLength="31.3" lengthAdjust="spacingAndGlyphs">0.00</text>
<text x="1024" y="75.60" font-size="14" class="num" textLength="35.9" lengthAdjust="spacingAndGlyphs">80.00</text>
<text x="1024" y="113.26" font-size="14" class="num" textLength="35.9" lengthAdjust="spacingAndGlyphs">70.00</text>
<text x="1024" y="150.92" font-size="14" class="num" textLength="35.9" lengthAdjust="spacingAndGlyphs">60.00</text>
<text x="1024" y="188.59" font-size="14" class="num" textLength="35.9" lengthAdjust="spacingAndGlyphs">50.00</text>
<text x="1024" y="226.25" font-size="14" class="num" textLength="35.9" lengthAdjust="spacingAndGlyphs">40.00</text>
<text x="1024" y="263.91" font-size="14" class="num" textLength="35.9" lengthAdjust="spacingAndGlyphs">30.00</text>
<text x="1024" y="301.57" font-size="14" class="num" textLength="35.9" lengthAdjust="spacingAndGlyphs">20.00</text>
<text x="1024" y="339.24" font-size="14" class="num" textLength="35.9" lengthAdjust="spacingAndGlyphs">10.00</text>
<text x="1024" y="376.90" font-size="14" class="num" textLength="29.3" lengthAdjust="spacingAndGlyphs">0.00</text>
<text class="ttl" x="8.0" y="19.3" textLength="34" lengthAdjust="spacingAndGlyphs">图表</text>
<text class="ttl tnum" x="48.0" y="19.6" textLength="10.5" lengthAdjust="spacingAndGlyphs">4</text>
<circle cx="63.0" cy="10.8" r="1.6" fill="#0c3c96"/><circle cx="61.3" cy="17.6" r="1.6" fill="#0c3c96"/>
<text class="ttl tnum" x="75.5" y="19.6" textLength="39.5" lengthAdjust="spacingAndGlyphs">2022</text>
<text class="ttl" x="120.0" y="19.3" textLength="185.5" lengthAdjust="spacingAndGlyphs">年各省份债务负担情况</text>
<text class="ttl" x="536.5" y="19.3" textLength="34" lengthAdjust="spacingAndGlyphs">图表</text>
<text class="ttl tnum" x="576.5" y="19.6" textLength="10.5" lengthAdjust="spacingAndGlyphs">5</text>
<circle cx="591.5" cy="10.8" r="1.6" fill="#0c3c96"/><circle cx="589.8" cy="17.6" r="1.6" fill="#0c3c96"/>
<text class="ttl tnum" x="604.0" y="19.6" textLength="39.5" lengthAdjust="spacingAndGlyphs">2022</text>
<text class="ttl" x="648.5" y="19.3" textLength="185.5" lengthAdjust="spacingAndGlyphs">年各省份综合财力情况</text>
<rect x="72.3" y="69.3" width="8" height="7.4" fill="#f4b183"/>
<text class="lg" x="85.2" y="73.8" textLength="141" lengthAdjust="spacingAndGlyphs">宽口径债务率（%）</text>
<circle cx="257.3" cy="72.9" r="4.5" fill="#5b9bd5"/>
<text class="lg" x="265.8" y="73.8" textLength="191.5" lengthAdjust="spacingAndGlyphs">宽口径负债率（右轴，%）</text>
<rect x="671" y="67" width="6.5" height="6.7" fill="#f4b183"/>
<text class="num" x="680" y="75.4" font-size="13.6" textLength="21" lengthAdjust="spacingAndGlyphs">GDP</text>
<text class="lg2" x="708" y="70.6" textLength="49" lengthAdjust="spacingAndGlyphs">（亿元）</text>
<circle cx="784.1" cy="70.4" r="4.3" fill="#5b9bd5"/>
<text class="lg2" x="790.8" y="70.6" textLength="153.5" lengthAdjust="spacingAndGlyphs">财政自给率（右轴，%）</text>
<text class="grp" x="122.7" y="455.3" textLength="48.5" lengthAdjust="spacingAndGlyphs">西部地</text><text class="grp" x="122.7" y="477.1" textLength="14" lengthAdjust="spacingAndGlyphs">区</text>
<text class="grp" x="265.4" y="459.8" textLength="48.5" lengthAdjust="spacingAndGlyphs">中部地</text><text class="grp" x="265.4" y="480.9" textLength="14" lengthAdjust="spacingAndGlyphs">区</text>
<text class="grp" x="353.3" y="459.8" textLength="48.5" lengthAdjust="spacingAndGlyphs">东部地</text><text class="grp" x="353.3" y="480.9" textLength="14" lengthAdjust="spacingAndGlyphs">区</text>
<text class="grp" x="422.1" y="459.0" textLength="48.5" lengthAdjust="spacingAndGlyphs">东北地</text><text class="grp" x="422.1" y="480.5" textLength="14" lengthAdjust="spacingAndGlyphs">区</text>
<text class="grp" x="692.8" y="455.4" textLength="48.5" lengthAdjust="spacingAndGlyphs">西部地</text><text class="grp" x="692.8" y="476.5" textLength="14" lengthAdjust="spacingAndGlyphs">区</text>
<text class="grp" x="820.7" y="459.3" textLength="48.5" lengthAdjust="spacingAndGlyphs">中部地</text><text class="grp" x="820.7" y="480.1" textLength="14" lengthAdjust="spacingAndGlyphs">区</text>
<text class="grp" x="908.7" y="459.3" textLength="48.5" lengthAdjust="spacingAndGlyphs">东部地</text><text class="grp" x="908.7" y="480.1" textLength="14" lengthAdjust="spacingAndGlyphs">区</text>
<text class="grp" x="969.3" y="459.3" textLength="48.5" lengthAdjust="spacingAndGlyphs">东北地</text><text class="grp" x="969.3" y="480.1" textLength="14" lengthAdjust="spacingAndGlyphs">区</text>
<text class="note" x="5.5" y="508.6" textLength="300.5" lengthAdjust="spacingAndGlyphs">资料来源：企业预警通，华福证券研究所</text>
<text class="note" x="533.5" y="508.6" textLength="300.5" lengthAdjust="spacingAndGlyphs">资料来源：企业预警通，华福证券研究所</text>
<text class="note" x="6.5" y="544.4" textLength="465.5" lengthAdjust="spacingAndGlyphs">注：1）负债率(宽口径) = (地方政府债务余额+城投平台有息债</text>
<text class="note" x="6.5" y="563.0" textLength="142.5" lengthAdjust="spacingAndGlyphs">务)*100%/GDP；2）</text>
<text class="note" x="149.0" y="563.0" textLength="355.5" lengthAdjust="spacingAndGlyphs">债务率(宽口径) = (地方政府债务余额+城投平台</text>
<text class="note" x="6.5" y="581.6" textLength="132.5" lengthAdjust="spacingAndGlyphs">有息债务）*100%/</text>
<text class="note" x="139.0" y="581.6" textLength="365.5" lengthAdjust="spacingAndGlyphs">地方政府综合财力；3）地方政府综合财力=一般公</text>
<text class="note" x="6.5" y="600.2" textLength="500.5" lengthAdjust="spacingAndGlyphs">共预算收入＋转移性收入＋政府性基金收入＋国有资本经营预算收入</text>
<text class="note" x="534.5" y="544.8" textLength="442.0" lengthAdjust="spacingAndGlyphs">注：财政自给率=一般公共预算收入*100%/一般公共预算支出</text>
<g fill="#b4b4b4"><ellipse cx="763.5" cy="561.6" rx="14.6" ry="11.9"/><path d="M753 570 L753.6 576 L760 572 Z"/><ellipse cx="777.2" cy="571" rx="13.7" ry="11.4" fill="#fff"/><ellipse cx="777.2" cy="571" rx="12.9" ry="10.6"/><path d="M783 579 L786 583.2 L786.5 577 Z"/></g><g fill="#fff"><circle cx="758.9" cy="558" r="2.1"/><circle cx="768.6" cy="558" r="2.1"/><circle cx="773.5" cy="568" r="1.8"/><circle cx="781.9" cy="568" r="1.8"/></g>
<text class="wm" x="800.5" y="566.8" textLength="91.5" lengthAdjust="spacingAndGlyphs">公众号</text>
<circle cx="907.4" cy="567" r="1.9" fill="#b4b4b4"/>
<text class="wm" x="926" y="566.8" textLength="120" lengthAdjust="spacingAndGlyphs">固收荷语</text>
</svg>
</body></html>
